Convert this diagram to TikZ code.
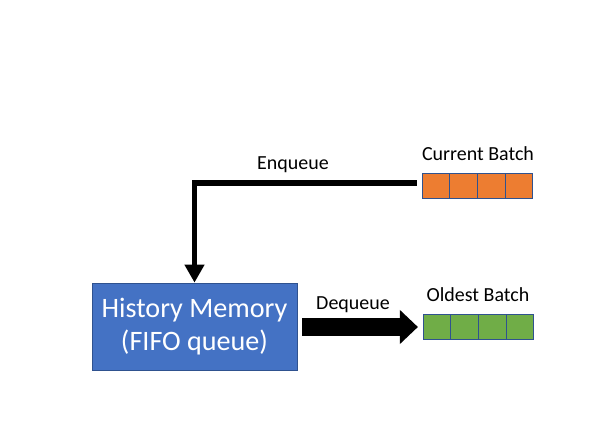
\documentclass[tikz,border=0pt]{standalone}
\usepackage{fontspec}
\setmainfont{Carlito}
\usetikzlibrary{arrows.meta,positioning}

\definecolor{memblue}{HTML}{4472C4}
\definecolor{memedge}{HTML}{2F528F}
\definecolor{curorange}{HTML}{ED7D31}
\definecolor{oldgreen}{HTML}{70AD47}

\tikzstyle{memory} = [align=center,draw=memedge,fill=memblue,text=white,font=\fontsize{20}{23.5}\selectfont,rectangle,minimum width=5.12cm,minimum height=2.18cm,inner sep=0pt]
\tikzstyle{cell} = [draw=memedge,rectangle,minimum width=0.69cm,minimum height=0.62cm,inner sep=0pt,line width=0.5pt]
\tikzstyle{label} = [font=\fontsize{14.2}{17}\selectfont,inner sep=0pt]
\tikzstyle{enq} = [line width=4.25pt,-{Triangle[width=13.5pt,length=12.8pt]}]
\tikzstyle{deq} = [line width=12.8pt,-{Triangle[width=23.4pt,length=12.8pt]}]

\begin{document}
\begin{tikzpicture}[x=0.025cm,y=-0.025cm,node distance=0.69cm]
	\useasboundingbox (0,0) rectangle (598,431);
	% history memory
	\node (mem) [memory] at (194.5,326.5) {History Memory\\(FIFO queue)};
	% current batch
	\node (cur1) [cell,fill=curorange] at (436,185.5) {};
	\node (cur2) [cell,fill=curorange,right of=cur1] {};
	\node (cur3) [cell,fill=curorange,right of=cur2] {};
	\node (cur4) [cell,fill=curorange,right of=cur3] {};
	% oldest batch
	\node (old1) [cell,fill=oldgreen] at (437,327) {};
	\node (old2) [cell,fill=oldgreen,right of=old1] {};
	\node (old3) [cell,fill=oldgreen,right of=old2] {};
	\node (old4) [cell,fill=oldgreen,right of=old3] {};
	% labels
	\node (curlabel) [label] at (478,154) {Current Batch};
	\node (oldlabel) [label] at (478,295) {Oldest Batch};
	\node (enqlabel) [label] at (293,165) {Enqueue};
	\node (deqlabel) [label] at (353,305) {Dequeue};
	% connections
	\draw [enq,shorten <=3.5pt] ([yshift=1.8pt]cur1.west) -| (mem.north);
	\draw [deq,shorten <=3.5pt,shorten >=3.5pt] (mem.east |- old1.west) -- (old1.west);
\end{tikzpicture}
\end{document}
